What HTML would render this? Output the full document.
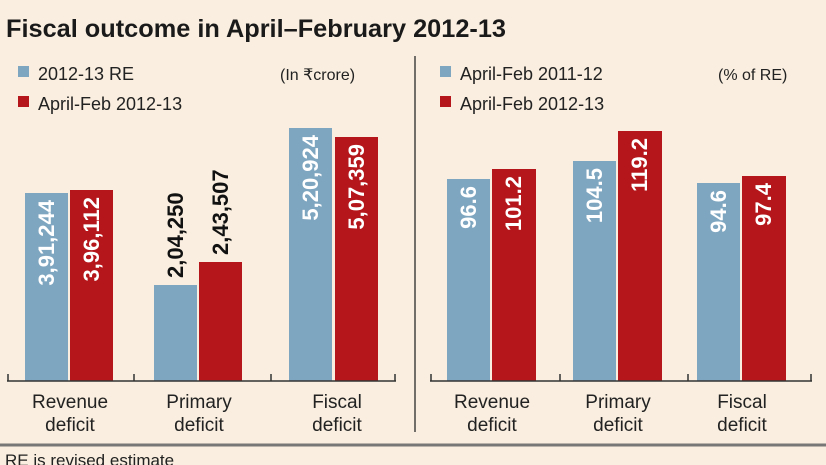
<!DOCTYPE html>
<html><head><style>
body{margin:0;background:#f9eedf;}
svg{display:block;font-family:"Liberation Sans",sans-serif;}
</style></head><body>
<svg width="826" height="465" viewBox="0 0 826 465">
<rect width="826" height="465" fill="#f9eedf"/>
<text x="6" y="37" font-size="25" font-weight="bold" fill="#1a1a1a" textLength="500" lengthAdjust="spacingAndGlyphs">Fiscal outcome in April–February 2012-13</text>
<line x1="415" y1="56" x2="415" y2="432" stroke="#444" stroke-width="1.5"/>
<rect x="18" y="66" width="11" height="11" fill="#7fa6c0"/>
<text x="38" y="80" font-size="18" fill="#222">2012-13 RE</text>
<rect x="18" y="96" width="11" height="11" fill="#b5161b"/>
<text x="38" y="110" font-size="18" fill="#222">April-Feb 2012-13</text>
<text x="280" y="80" font-size="16" fill="#222">(In ₹crore)</text>
<rect x="440" y="66" width="11" height="11" fill="#7fa6c0"/>
<text x="460" y="80" font-size="18" fill="#222">April-Feb 2011-12</text>
<rect x="440" y="96" width="11" height="11" fill="#b5161b"/>
<text x="460" y="110" font-size="18" fill="#222">April-Feb 2012-13</text>
<text x="718" y="80" font-size="16" fill="#222">(% of RE)</text>
<g fill="#7fa6c0">
<rect x="25" y="193" width="43" height="188"/><rect x="154" y="285" width="43" height="96"/><rect x="289" y="128" width="43" height="253"/>
<rect x="447" y="179" width="43" height="202"/><rect x="573" y="161" width="43" height="220"/><rect x="697" y="183" width="43" height="198"/>
</g>
<g fill="#b5161b">
<rect x="70" y="190" width="43" height="191"/><rect x="199" y="262" width="43" height="119"/><rect x="335" y="137" width="43" height="244"/>
<rect x="492" y="169" width="44" height="212"/><rect x="618" y="131" width="44" height="250"/><rect x="742" y="176" width="44" height="205"/>
</g>
<g font-size="22" font-weight="bold" fill="#fff" text-anchor="end">
<text transform="translate(54,200) rotate(-90)">3,91,244</text>
<text transform="translate(99,197) rotate(-90)">3,96,112</text>
<text transform="translate(183,278) rotate(-90)" fill="#111" text-anchor="start">2,04,250</text>
<text transform="translate(228,255) rotate(-90)" fill="#111" text-anchor="start">2,43,507</text>
<text transform="translate(318,135) rotate(-90)">5,20,924</text>
<text transform="translate(364,144) rotate(-90)">5,07,359</text>
<text transform="translate(476,186) rotate(-90)">96.6</text>
<text transform="translate(521,176) rotate(-90)">101.2</text>
<text transform="translate(602,168) rotate(-90)">104.5</text>
<text transform="translate(647,138) rotate(-90)">119.2</text>
<text transform="translate(726,190) rotate(-90)">94.6</text>
<text transform="translate(771,183) rotate(-90)">97.4</text>
</g>
<g stroke="#333" stroke-width="1.5">
<line x1="7" y1="381" x2="396" y2="381"/><line x1="430" y1="381" x2="812" y2="381"/>
<line x1="8" y1="374" x2="8" y2="381"/><line x1="134" y1="374" x2="134" y2="381"/><line x1="271" y1="374" x2="271" y2="381"/><line x1="395" y1="374" x2="395" y2="381"/>
<line x1="431" y1="374" x2="431" y2="381"/><line x1="560" y1="374" x2="560" y2="381"/><line x1="688" y1="374" x2="688" y2="381"/><line x1="811" y1="374" x2="811" y2="381"/>
</g>
<g font-size="19" fill="#222" text-anchor="middle">
<text x="70" y="408">Revenue</text><text x="70" y="431">deficit</text>
<text x="199" y="408">Primary</text><text x="199" y="431">deficit</text>
<text x="337" y="408">Fiscal</text><text x="337" y="431">deficit</text>
<text x="492" y="408">Revenue</text><text x="492" y="431">deficit</text>
<text x="618" y="408">Primary</text><text x="618" y="431">deficit</text>
<text x="742" y="408">Fiscal</text><text x="742" y="431">deficit</text>
</g>
<line x1="0" y1="445" x2="826" y2="445" stroke="#777" stroke-width="3"/>
<text x="5" y="466" font-size="17" fill="#222">RE is revised estimate</text>
</svg>
</body></html>
